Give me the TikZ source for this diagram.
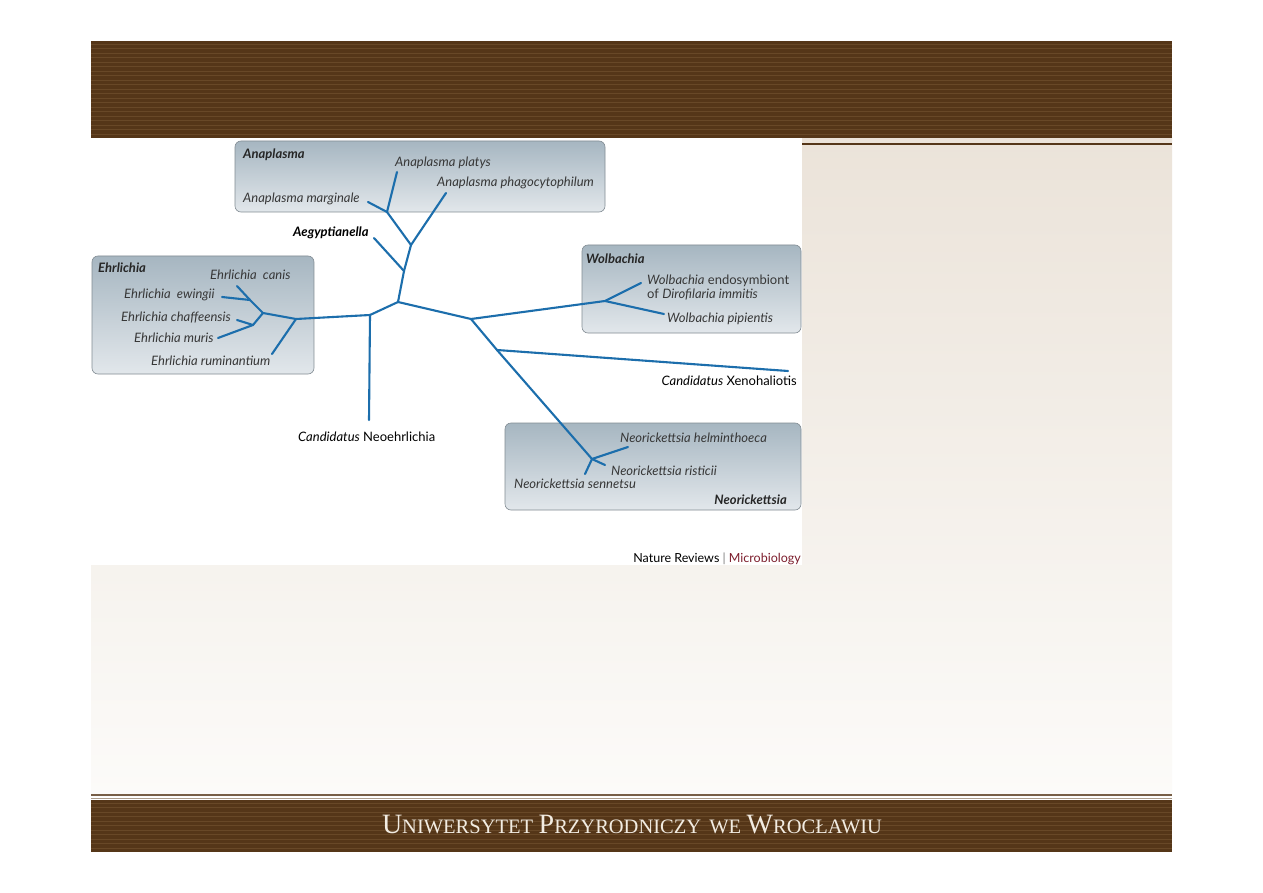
\documentclass[tikz,border=0pt]{standalone}
\usepackage{fontspec}
\setmainfont{Liberation Serif}
\newfontfamily\dfont{Lato}
\definecolor{brownband}{RGB}{85,54,24}
\definecolor{brownstripe}{RGB}{104,72,39}
\definecolor{treeblue}{RGB}{28,110,172}
\definecolor{boxtop}{RGB}{166,182,193}
\definecolor{boxbot}{RGB}{226,231,235}
\definecolor{boxborder}{RGB}{130,140,147}
\definecolor{spgray}{RGB}{55,55,55}
\definecolor{paneltop}{RGB}{235,227,217}
\definecolor{panelbot}{RGB}{252,251,249}
\definecolor{bandtext}{RGB}{242,236,226}
\definecolor{microred}{RGB}{125,30,45}
\begin{document}
\begin{tikzpicture}[x=1pt,y=-1pt,
  br/.style={draw=treeblue, line width=2.1pt, line cap=round, line join=round},
  sp/.style={font=\dfont\itshape\fontsize{13}{15}\selectfont, text=spgray, inner sep=0pt, anchor=west},
  gn/.style={font=\dfont\bfseries\itshape\fontsize{13}{15}\selectfont, text=black!85, inner sep=0pt, anchor=west},
  cand/.style={font=\dfont\fontsize{13}{15}\selectfont, text=black, inner sep=0pt},
  grp/.style={draw=boxborder, line width=0.6pt, rounded corners=6pt, top color=boxtop, bottom color=boxbot},
  stripe/.style={draw=brownstripe, line width=0.9pt}]
\useasboundingbox (0,0) rectangle (1263,893);
\fill[white] (0,0) rectangle (1263,893);
% slide content background
\shade[top color=paneltop, bottom color=panelbot] (91,138) rectangle (1172,796);
\fill[white] (91,138) rectangle (802,565);
% top band
\fill[brownband] (91,41) rectangle (1172,138);
\foreach \yy in {44,48.5,...,136} {\draw[stripe] (91,\yy) -- (1172,\yy);}
\draw[brownband, line width=2.2pt] (802,144) -- (1172,144);
% bottom band
\draw[brownband!80, line width=1.6pt] (91,795) -- (1172,795);
\draw[brownband!50, line width=0.6pt] (91,798) -- (1172,798);
\fill[brownband] (91,800) rectangle (1172,852);
\foreach \yy in {803,807.5,...,850} {\draw[stripe] (91,\yy) -- (1172,\yy);}
\node[text=bandtext, inner sep=0pt] (uni) at (632,825)
 {{\fontsize{28}{28}\selectfont U}{\fontsize{20.5}{21}\selectfont NIWERSYTET}\hspace{0.55em}{\fontsize{28}{28}\selectfont P}{\fontsize{20.5}{21}\selectfont RZYRODNICZY\hspace{0.4em}WE}\hspace{0.55em}{\fontsize{28}{28}\selectfont W}{\fontsize{20.5}{21}\selectfont ROCŁAWIU}};
% group boxes
\draw[grp] (235,141) rectangle (605,212);
\draw[grp] (92,256) rectangle (314,374);
\draw[grp] (582,245) rectangle (801,333);
\draw[grp] (505,423) rectangle (801,510);
% tree coordinates
\coordinate (R1) at (398,302);
\coordinate (L1) at (370,315);
\coordinate (NE) at (369,420);
\coordinate (E1) at (296,319);
\coordinate (Eru) at (272,354);
\coordinate (E2) at (263,313);
\coordinate (E3) at (250,300);
\coordinate (Eca) at (237,286);
\coordinate (Eew) at (222,297);
\coordinate (E4) at (253,325);
\coordinate (Ech) at (237,320);
\coordinate (Emu) at (218,338);
\coordinate (A1) at (404,271);
\coordinate (Aeg) at (374,238);
\coordinate (A2) at (411,245);
\coordinate (Aph) at (446,193);
\coordinate (A3) at (387,212);
\coordinate (Apl) at (397,172);
\coordinate (Ama) at (368,202);
\coordinate (R2) at (471,319);
\coordinate (W1) at (605,301);
\coordinate (Wen) at (641,283);
\coordinate (Wpi) at (664,314);
\coordinate (R3) at (497,350);
\coordinate (Xen) at (788,371);
\coordinate (N1) at (592,459);
\coordinate (Nhe) at (628,447);
\coordinate (Nri) at (605,465);
\coordinate (Nse) at (585,474);
% branches
\draw[br] (R1) -- (L1) -- (E1);
\draw[br] (L1) -- (NE);
\draw[br] (E1) -- (Eru);
\draw[br] (E1) -- (E2) -- (E3) -- (Eca);
\draw[br] (E3) -- (Eew);
\draw[br] (E2) -- (E4) -- (Ech);
\draw[br] (E4) -- (Emu);
\draw[br] (R1) -- (A1) -- (Aeg);
\draw[br] (A1) -- (A2) -- (Aph);
\draw[br] (A2) -- (A3) -- (Apl);
\draw[br] (A3) -- (Ama);
\draw[br] (R1) -- (R2) -- (W1) -- (Wen);
\draw[br] (W1) -- (Wpi);
\draw[br] (R2) -- (R3) -- (Xen);
\draw[br] (R3) -- (N1) -- (Nhe);
\draw[br] (N1) -- (Nri);
\draw[br] (N1) -- (Nse);
% labels
\node[gn] (hAna) at (243,155) {Anaplasma};
\node[sp] (lApl) at (395,163) {Anaplasma platys};
\node[sp] (lAph) at (437,183) {Anaplasma phagocytophilum};
\node[sp] (lAma) at (243,199) {Anaplasma marginale};
\node[gn, text=black] (lAeg) at (293,233) {Aegyptianella};
\node[gn] (hEhr) at (98,268) {Ehrlichia};
\node[sp] (lEca) at (210,275) {Ehrlichia\ \ canis};
\node[sp] (lEew) at (124,295) {Ehrlichia\ \ ewingii};
\node[sp] (lEch) at (121,318) {Ehrlichia chaffeensis};
\node[sp] (lEmu) at (134,338) {Ehrlichia muris};
\node[sp] (lEru) at (151,361) {Ehrlichia ruminantium};
\node[cand, anchor=west] (lNE) at (298,437) {\itshape Candidatus\upshape\ Neoehrlichia};
\node[gn] (hWol) at (586,259) {Wolbachia};
\node[sp] (lWen) at (647,281) {Wolbachia\upshape\ endosymbiont};
\node[sp] (lWdi) at (647,295) {\upshape of \itshape Dirofilaria immitis};
\node[sp] (lWpi) at (667,319) {Wolbachia pipientis};
\node[cand, anchor=east] (lXen) at (797,381) {\itshape Candidatus\upshape\ Xenohaliotis};
\node[sp] (lNhe) at (620,438) {Neorickettsia helminthoeca};
\node[sp] (lNri) at (611,471) {Neorickettsia risticii};
\node[sp] (lNse) at (514,484) {Neorickettsia sennetsu};
\node[gn, anchor=east] (hNeo) at (787,500) {Neorickettsia};
\node[cand, anchor=east, font=\dfont\fontsize{12.5}{14}\selectfont] (nr) at (801,559) {Nature Reviews {\color{gray}|} \textcolor{microred}{Microbiology}};
\end{tikzpicture}
\end{document}
